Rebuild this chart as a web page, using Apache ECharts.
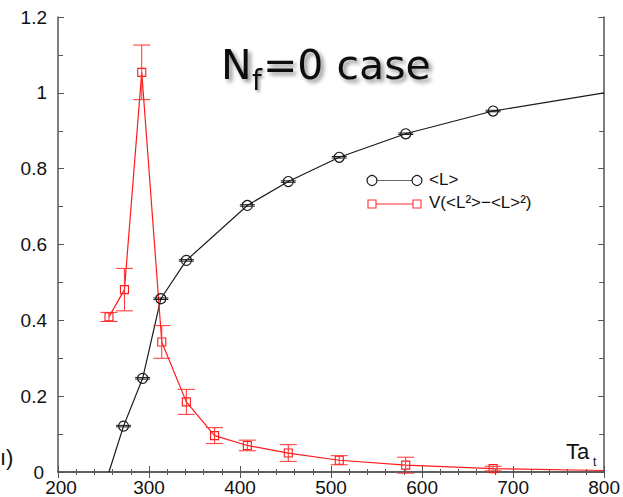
<!DOCTYPE html>
<html>
<head>
<meta charset="utf-8">
<script src="https://cdn.jsdelivr.net/npm/echarts@6/dist/echarts.min.js"></script>
<style>
html,body{margin:0;padding:0;background:#fff;}
#chart{width:623px;height:497px;}
</style>
</head>
<body>
<div id="chart"></div>
<script>
// ---- data ----
const xTicks = [200, 300, 400, 500, 600, 700, 800];
const yTicks = [0, 0.2, 0.4, 0.6, 0.8, 1, 1.2];

// <L> (Polyakov loop) series
const lTemp  = [272, 293, 313, 341, 408, 453, 509, 582, 678];
const lValue = [0.121, 0.247, 0.457, 0.558, 0.703, 0.766, 0.830, 0.892, 0.952];
const lError = [0.002, 0.002, 0.002, 0.002, 0.002, 0.002, 0.002, 0.002, 0.002];
const lCurveStart = [256, 0];
const lCurveEnd   = [800, 1.0];

// susceptibility V(<L^2>-<L>^2) series
const vTemp  = [256, 273, 292, 314, 341, 372, 408, 453, 509, 582, 678];
const vValue = [0.409, 0.481, 1.054, 0.343, 0.185, 0.096, 0.070, 0.050, 0.031, 0.018, 0.009];
const vError = [0.012, 0.056, 0.072, 0.043, 0.033, 0.021, 0.014, 0.022, 0.012, 0.021, 0.006];
const vCurveEnd = [800, 0.004];

const legendNames = ['<L>', 'V(<L\u00B2>\u2212<L>\u00B2)'];

// ---- build ----
const chart = echarts.init(document.getElementById('chart'), null, {renderer: 'svg'});

const lLine = [{value: lCurveStart, symbol: 'none'}]
  .concat(lTemp.map((t, i) => [t, lValue[i]]))
  .concat([{value: lCurveEnd, symbol: 'none'}]);
const vLine = vTemp.map((t, i) => [t, vValue[i]])
  .concat([{value: vCurveEnd, symbol: 'none'}]);
const lErrData = lTemp.map((t, i) => [t, lValue[i], lError[i]]);
const vErrData = vTemp.map((t, i) => [t, vValue[i], vError[i]]);

function errRender(color, hw) {
  return function (params, api) {
    const x = api.value(0), y = api.value(1), e = api.value(2);
    const p1 = api.coord([x, y + e]);
    const p2 = api.coord([x, y - e]);
    const s = {stroke: color, lineWidth: 1, fill: null};
    return {
      type: 'group',
      children: [
        {type: 'line', shape: {x1: p1[0], y1: p1[1], x2: p2[0], y2: p2[1]}, style: s},
        {type: 'line', shape: {x1: p1[0] - hw, y1: p1[1], x2: p1[0] + hw, y2: p1[1]}, style: s},
        {type: 'line', shape: {x1: p2[0] - hw, y1: p2[1], x2: p2[0] + hw, y2: p2[1]}, style: s}
      ]
    };
  };
}

const axisColor = '#555';
const labelFont = {fontFamily: 'Liberation Sans', fontSize: 19, lineHeight: 13, color: '#111'};

function xAx(pos, show) {
  return {
    type: 'value', position: pos, min: xTicks[0], max: xTicks[xTicks.length - 1], interval: 100,
    axisLine: {show: true, lineStyle: {color: axisColor, width: 1.5}},
    axisTick: {show: true, inside: true, length: 6, lineStyle: {color: axisColor, width: 1}},
    minorTick: {show: true, splitNumber: 5, length: 3, lineStyle: {color: axisColor, width: 1}},
    splitLine: {show: false}, minorSplitLine: {show: false},
    axisLabel: Object.assign({
      show: show, margin: 9,
      formatter: v => (v === xTicks[0] ? '{p|' + v + '}' : String(v)),
      rich: {p: Object.assign({padding: [0, 0, 0, 6]}, labelFont)}
    }, labelFont)
  };
}
function yAx(pos, show) {
  return {
    type: 'value', position: pos, min: yTicks[0], max: yTicks[yTicks.length - 1], interval: 0.2,
    axisLine: {show: true, lineStyle: {color: axisColor, width: 1.5}},
    axisTick: {show: true, inside: true, length: 6, lineStyle: {color: axisColor, width: 1}},
    minorTick: {show: true, splitNumber: 2, length: 5, lineStyle: {color: axisColor, width: 1}},
    splitLine: {show: false}, minorSplitLine: {show: false},
    axisLabel: Object.assign({
      show: show, margin: 11,
      formatter: v => (v === yTicks[0] ? '{p|0}' : String(+v.toFixed(1))),
      rich: {p: Object.assign({padding: [0, 3, 0, 0]}, labelFont)}
    }, labelFont)
  };
}

const legendX1 = 372, legendX2 = 417, legendTextX = 429;
const shadow = {textShadowColor: 'rgba(0,0,0,0.45)', textShadowBlur: 4, textShadowOffsetX: 3, textShadowOffsetY: 3};

const option = {
  animation: false,
  backgroundColor: '#fff',
  grid: {left: 58, right: 15, top: 17, bottom: 24, containLabel: false},
  xAxis: [xAx('bottom', true), xAx('top', false)],
  yAxis: [yAx('left', true), yAx('right', false)],
  series: [
    {
      name: legendNames[0], type: 'line', data: lLine, z: 3,
      symbol: 'circle', symbolSize: 10,
      lineStyle: {color: '#1a1a1a', width: 1.2},
      itemStyle: {color: 'transparent', borderColor: '#1a1a1a', borderWidth: 1.2}
    },
    {
      name: 'Lerr', type: 'custom', data: lErrData, z: 4,
      encode: {x: 0, y: 1}, renderItem: errRender('#1a1a1a', 7.5)
    },
    {
      name: legendNames[1], type: 'line', data: vLine, z: 3,
      symbol: 'rect', symbolSize: 8,
      lineStyle: {color: '#ff1a1a', width: 1.2},
      itemStyle: {color: 'transparent', borderColor: '#ff1a1a', borderWidth: 1.1}
    },
    {
      name: 'Verr', type: 'custom', data: vErrData, z: 4,
      encode: {x: 0, y: 1}, renderItem: errRender('#ff3030', 8.5)
    }
  ],
  graphic: [
    // title
    {type: 'text', left: 221, top: 44, z: 10,
     style: Object.assign({text: 'N', fontFamily: 'DejaVu Sans', fontSize: 41, fill: '#111'}, shadow)},
    {type: 'text', left: 252, top: 66, z: 10,
     style: {text: 'f', fontFamily: 'DejaVu Sans', fontSize: 28, fill: '#111',
             textShadowColor: 'rgba(0,0,0,0.45)', textShadowBlur: 3, textShadowOffsetX: 2, textShadowOffsetY: 2}},
    {type: 'text', left: 263, top: 44, z: 10,
     style: Object.assign({text: '=0 case', fontFamily: 'DejaVu Sans', fontSize: 41, fill: '#111'}, shadow)},
    // axis title Ta_t
    {type: 'text', left: 566, top: 440, z: 10,
     style: {text: 'Ta', fontFamily: 'Liberation Sans', fontSize: 22, fill: '#111'}},
    {type: 'text', left: 593, top: 456, z: 10,
     style: {text: 't', fontFamily: 'Liberation Sans', fontSize: 12, fill: '#111'}},
    // fragment at far left edge
    {type: 'text', left: 0, top: 446, z: 10,
     style: {text: '\u0131)', fontFamily: 'Liberation Sans', fontSize: 22, fill: '#111'}},
    // legend row 1
    {type: 'line', shape: {x1: legendX1, y1: 180.5, x2: legendX2, y2: 180.5}, style: {stroke: '#666', lineWidth: 1.2}},
    {type: 'circle', shape: {cx: legendX1, cy: 180.5, r: 5}, style: {stroke: '#1a1a1a', fill: '#fff', lineWidth: 1.2}},
    {type: 'circle', shape: {cx: legendX2, cy: 180.5, r: 5}, style: {stroke: '#1a1a1a', fill: '#fff', lineWidth: 1.2}},
    {type: 'text', left: legendTextX, top: 171, style: {text: legendNames[0], fontFamily: 'Liberation Sans', fontSize: 17, fill: '#111'}},
    // legend row 2
    {type: 'line', shape: {x1: legendX1, y1: 204, x2: legendX2, y2: 204}, style: {stroke: '#ff3030', lineWidth: 1.2}},
    {type: 'rect', shape: {x: legendX1 - 4, y: 200, width: 8, height: 8}, style: {stroke: '#ff3030', fill: '#fff', lineWidth: 1.1}},
    {type: 'rect', shape: {x: legendX2 - 4, y: 200, width: 8, height: 8}, style: {stroke: '#ff3030', fill: '#fff', lineWidth: 1.1}},
    {type: 'text', left: legendTextX, top: 194, style: {text: legendNames[1], fontFamily: 'Liberation Sans', fontSize: 17, fill: '#111'}}
  ]
};
chart.setOption(option);
</script>
</body>
</html>
